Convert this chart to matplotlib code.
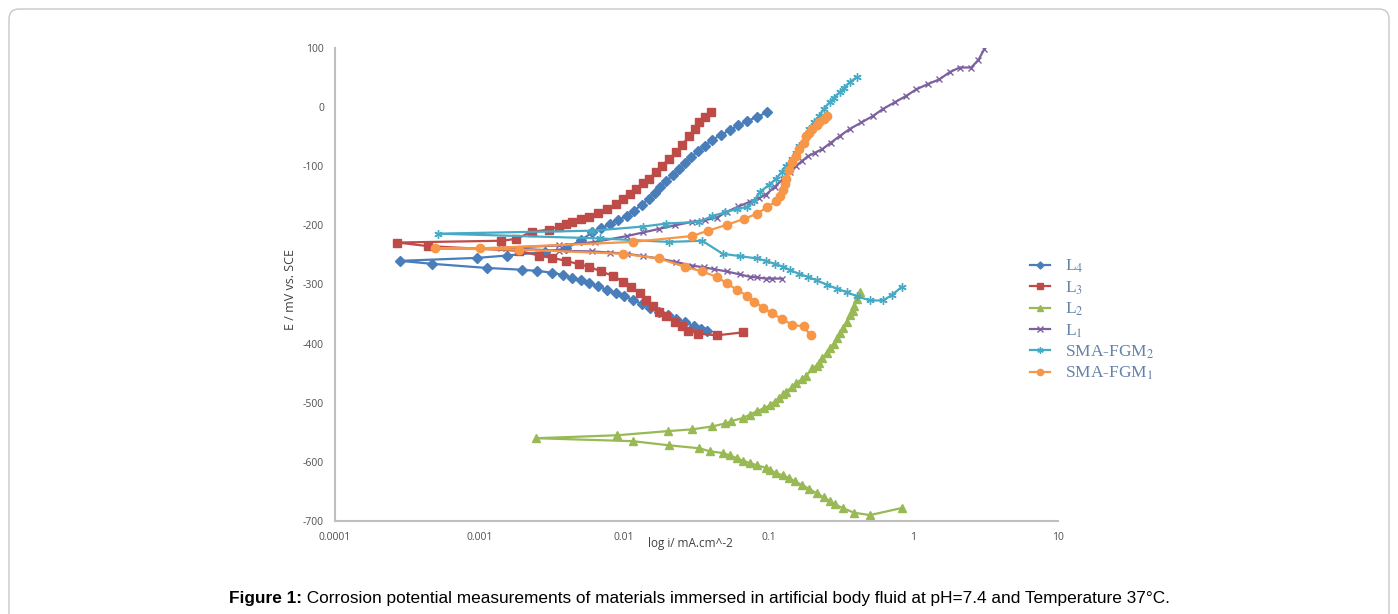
import matplotlib
matplotlib.use('Agg')
import matplotlib.pyplot as plt
from matplotlib.patches import FancyBboxPatch
from matplotlib.transforms import IdentityTransform
import numpy as np

plt.rcParams['mathtext.fontset'] = 'stix'
plt.rcParams['axes.unicode_minus'] = False

# polarisation curves, scan order: cathodic end -> Ecorr -> anodic end
# log i (mA/cm^2) and E (mV vs. SCE)
l4_logi = [-1.43, -1.47, -1.52, -1.58, -1.64, -1.70, -1.76, -1.82, -1.88, -1.94, -2.00, -2.06,
           -2.12, -2.18, -2.24, -2.30, -2.36, -2.42, -2.50, -2.60, -2.71, -2.95, -3.33, -3.55,
           -3.02, -2.81, -2.55, -2.40, -2.30, -2.22, -2.16, -2.10, -2.04, -1.98, -1.93, -1.88,
           -1.83, -1.79, -1.75, -1.71, -1.66, -1.62, -1.58, -1.54, -1.49, -1.44, -1.39, -1.33,
           -1.27, -1.21, -1.15, -1.08, -1.01]
l4_E = [-379, -375, -370, -364, -358, -352, -346, -339, -333, -326, -320, -314,
        -309, -303, -298, -293, -289, -284, -280, -277, -275, -272, -265, -260,
        -255, -251, -245, -239, -225, -212, -205, -198, -191, -184, -175, -165,
        -155, -145, -135, -125, -115, -105, -95, -85, -75, -65, -55, -47,
        -39, -31, -24, -16, -9]

l3_logi = [-1.18, -1.36, -1.49, -1.56, -1.60, -1.65, -1.71, -1.76, -1.80, -1.85, -1.89, -1.95,
           -2.01, -2.08, -2.16, -2.24, -2.31, -2.40, -2.50, -2.59, -2.73, -3.36, -3.57,
           -2.85, -2.75, -2.64, -2.52, -2.45, -2.40, -2.36, -2.30, -2.24, -2.18, -2.12, -2.06,
           -2.01, -1.96, -1.92, -1.87, -1.83, -1.78, -1.74, -1.69, -1.64, -1.60, -1.55, -1.51,
           -1.48, -1.44, -1.40]
l3_E = [-381, -386, -383, -378, -371, -363, -354, -346, -337, -327, -315, -304,
        -295, -285, -278, -270, -266, -260, -255, -251, -243, -235, -229,
        -226, -223, -211, -207, -202, -198, -194, -190, -185, -179, -172, -164,
        -155, -147, -138, -129, -121, -110, -99, -88, -76, -64, -49, -37,
        -25, -16, -8]

l2_logi = [-0.08, -0.30, -0.41, -0.49, -0.54, -0.58, -0.62, -0.67, -0.72, -0.77, -0.82, -0.86,
           -0.90, -0.95, -0.99, -1.02, -1.08, -1.13, -1.18, -1.22, -1.27, -1.32, -1.41, -1.48,
           -1.69, -1.94, -2.61,
           -2.05, -1.70, -1.53, -1.39, -1.30, -1.26, -1.18, -1.13, -1.08, -1.03, -0.99, -0.96,
           -0.93, -0.90, -0.88, -0.84, -0.81, -0.77, -0.74, -0.70, -0.67, -0.65, -0.63, -0.60,
           -0.58, -0.55, -0.53, -0.51, -0.49, -0.46, -0.44, -0.42, -0.41, -0.39, -0.37]
l2_E = [-678, -690, -686, -678, -672, -666, -660, -653, -646, -639, -633, -627,
        -623, -619, -614, -610, -606, -602, -598, -594, -589, -585, -582, -577,
        -572, -565, -560,
        -555, -548, -545, -540, -535, -531, -526, -520, -514, -509, -504, -498,
        -492, -486, -481, -474, -467, -460, -454, -442, -437, -433, -425, -416,
        -408, -400, -391, -382, -374, -363, -352, -344, -336, -324, -312]

l1_logi = [-0.91, -0.98, -1.02, -1.08, -1.13, -1.20, -1.29, -1.38, -1.45, -1.53, -1.64, -1.76,
           -1.87, -1.98, -2.10, -2.22, -2.45, -2.85,
           -2.45, -2.20, -1.98, -1.87, -1.76, -1.65, -1.53, -1.44, -1.36, -1.29, -1.21, -1.13,
           -1.07, -1.02, -0.96, -0.90, -0.85, -0.81, -0.77, -0.73, -0.68, -0.63, -0.57, -0.51,
           -0.44, -0.36, -0.28, -0.21, -0.13, -0.05, 0.02, 0.10, 0.18, 0.25, 0.32, 0.40,
           0.45, 0.49]
l1_E = [-290, -290, -290, -288, -287, -283, -278, -274, -271, -268, -262, -256,
        -252, -248, -246, -244, -243, -238,
        -234, -228, -218, -212, -206, -200, -194, -191, -187, -177, -168, -160,
        -154, -148, -135, -121, -110, -99, -91, -83, -77, -71, -60, -49,
        -37, -26, -15, -3, 8, 19, 30, 39, 47, 59, 67, 67,
        80, 98]

fgm2_logi = [-0.08, -0.15, -0.21, -0.30, -0.39, -0.46, -0.53, -0.60, -0.67, -0.73, -0.79, -0.85,
             -0.90, -0.96, -1.02, -1.08, -1.20, -1.32, -1.46, -1.69, -2.17, -3.29,
             -2.22, -1.87, -1.71, -1.48, -1.39, -1.30, -1.22, -1.15, -1.10, -1.06, -1.00, -0.95,
             -0.91, -0.88, -0.84, -0.81, -0.79, -0.75, -0.72, -0.69, -0.65, -0.62, -0.58, -0.55,
             -0.51, -0.48, -0.44, -0.39]
fgm2_E = [-304, -318, -327, -327, -320, -313, -307, -300, -293, -287, -282, -276,
          -270, -265, -260, -256, -252, -248, -226, -228, -222, -214,
          -209, -202, -197, -194, -184, -178, -172, -169, -158, -143, -132, -121,
          -110, -99, -88, -77, -66, -52, -37, -26, -15, -3, 8, 16,
          25, 33, 42, 51]

fgm1_logi = [-0.71, -0.76, -0.84, -0.91, -0.98, -1.04, -1.10, -1.15, -1.22, -1.29, -1.36, -1.46,
             -1.58, -1.76, -2.01, -2.73, -3.31,
             -3.00, -1.94, -1.53, -1.42, -1.29, -1.17, -1.08, -1.01, -0.95, -0.92, -0.90, -0.89,
             -0.88, -0.86, -0.84, -0.81, -0.79, -0.76, -0.74, -0.72, -0.70, -0.67, -0.65, -0.62,
             -0.60]
fgm1_E = [-386, -371, -368, -358, -349, -339, -329, -319, -309, -298, -287, -278,
          -270, -256, -248, -241, -239,
          -239, -228, -218, -209, -199, -189, -180, -169, -159, -150, -140, -130,
          -121, -107, -93, -82, -71, -60, -49, -43, -37, -30, -25, -20,
          -15]

x_ticks = [0.0001, 0.001, 0.01, 0.1, 1, 10]
x_tick_labels = ['0.0001', '0.001', '0.01', '0.1', '1', '10']
y_ticks = list(range(-700, 101, 100))

series = [
    ('L$_4$', l4_logi, l4_E, '#4A7EBB', 'D', 4.8, 1.0),
    ('L$_3$', l3_logi, l3_E, '#BE4B48', 's', 6.0, 1.0),
    ('L$_2$', l2_logi, l2_E, '#98B954', '^', 6.0, 1.0),
    ('L$_1$', l1_logi, l1_E, '#7D60A0', 'x', 5.0, 1.0),
    ('SMA-FGM$_2$', fgm2_logi, fgm2_E, '#46AAC5', (6, 2, 0), 6.0, 1.0),
    ('SMA-FGM$_1$', fgm1_logi, fgm1_E, '#F79646', 'o', 6.0, 1.0),
]

W, H = 1398, 614
fig = plt.figure(figsize=(W / 100, H / 100), dpi=100)
fig.patch.set_facecolor('white')
ax = fig.add_axes([335 / W, 1 - 521 / H, (1058 - 335) / W, (521 - 48) / H])

for label, logi, E, c, m, ms, mew in series:
    ax.plot(10 ** np.array(logi), E, color=c, lw=1.6, marker=m, ms=ms,
            mfc=c, mec=c, mew=mew, label=label)

ax.set_xscale('log')
ax.set_xlim(1e-4, 10)
ax.set_ylim(-700, 100)
ax.set_xticks(x_ticks)
ax.set_xticklabels(x_tick_labels)
ax.set_yticks(y_ticks)
ax.minorticks_off()
ax.tick_params(length=0, labelsize=7.5, labelcolor='#505050', pad=8)
for lab in ax.get_xticklabels() + ax.get_yticklabels():
    lab.set_family('Open Sans')
for s in ['top', 'right']:
    ax.spines[s].set_visible(False)
for s in ['left', 'bottom']:
    ax.spines[s].set_color('#BFBFBF')
    ax.spines[s].set_linewidth(1.5)

fig.text(290 / W, 1 - 289 / H, 'E / mV vs. SCE', rotation=90, ha='center', va='center',
         fontsize=9, color='#404040', family='Open Sans')
fig.text(690 / W, 1 - 544 / H, 'log i/ mA.cm^-2', ha='center', va='center',
         fontsize=8.5, color='#404040', family='Open Sans')

fig.legend(loc='upper left', bbox_to_anchor=(1030 / W, 1 - 258 / H), frameon=False,
           prop={'family': 'Liberation Serif', 'size': 12.5}, labelcolor='#6482AA',
           handlelength=1.15, handletextpad=0.85, labelspacing=0.23, borderpad=0,
           borderaxespad=0, numpoints=1, markerscale=0.75)

# rounded frame around the figure
frame = FancyBboxPatch((9, -40), 1380, 614 - 9 + 40, boxstyle='round,pad=0,rounding_size=10',
                       transform=IdentityTransform(), fill=False, ec='#C8C8C8', lw=1.0)
fig.add_artist(frame)

cap_y = 1 - 598 / H
cap_font = ['Liberation Sans Narrow', 'Liberation Sans']
cap_size = 12.4
t1 = fig.text(229 / W, cap_y, 'Figure 1:', fontsize=cap_size, weight='bold', family=cap_font,
              va='center', ha='left')
fig.canvas.draw()
w1 = t1.get_window_extent().width
fig.text((229 + w1) / W, cap_y,
         ' Corrosion potential measurements of materials immersed in artificial body fluid at pH=7.4 and Temperature 37\u00b0C.',
         fontsize=cap_size, family=cap_font, va='center', ha='left')

fig.savefig('out.png', dpi=100)
